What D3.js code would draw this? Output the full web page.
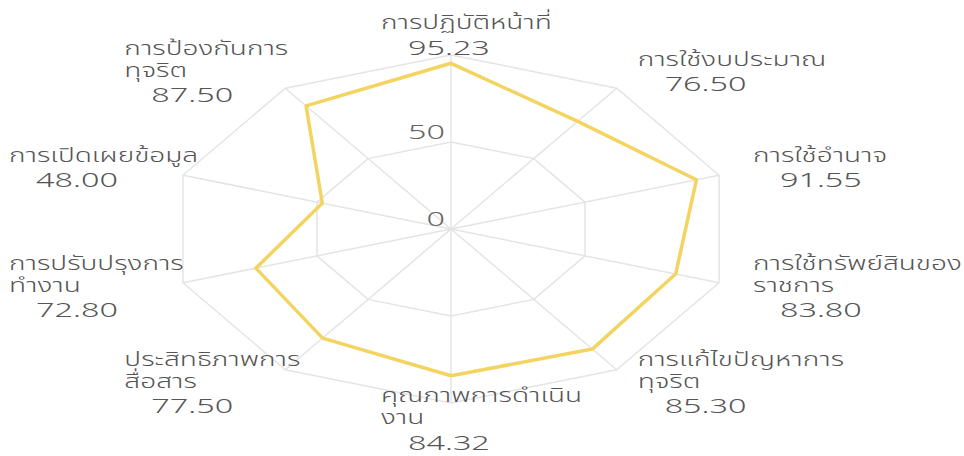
<!DOCTYPE html>
<html>
<head>
<meta charset="utf-8">
<script src="https://cdn.jsdelivr.net/npm/d3@7"></script>
<style>
body { margin: 0; background: #fff; }
svg text { font-family: "Noto Sans Thai", "Noto Sans", "DejaVu Sans", sans-serif; fill: #555; font-weight: 300; }
</style>
</head>
<body>
<svg id="chart" width="964" height="456"></svg>
<script>
// label lines per axis (wrapped as in the picture), clockwise from the top
var categories = [
    ['การปฏิบัติหน้าที่'],
    ['การใช้งบประมาณ'],
    ['การใช้อำนาจ'],
    ['การใช้ทรัพย์สินของ', 'ราชการ'],
    ['การแก้ไขปัญหาการ', 'ทุจริต'],
    ['คุณภาพการดำเนิน', 'งาน'],
    ['ประสิทธิภาพการ', 'สื่อสาร'],
    ['การปรับปรุงการ', 'ทำงาน'],
    ['การเปิดเผยข้อมูล'],
    ['การป้องกันการ', 'ทุจริต']
];
var scores = [95.23, 76.50, 91.55, 83.80, 85.30, 84.32, 77.50, 72.80, 48.00, 87.50];
var ringValues = [50, 100];
var tickValues = [0, 50];

var cx = 451, cy = 229;
var stretch = 1.62;      // the picture is wider than it is tall
var thaiStretch = 1.4;   // the Thai face here runs wider than the original one
var boxWidth = 140;
var lineGap = 22, valueGap = 25.5;

var svg = d3.select('#chart');
var r = d3.scaleLinear().domain([0, 100]).range([0, 174]);
var angle = d3.scaleLinear().domain([0, categories.length]).range([0, 2 * Math.PI]);

function px(i, v) { return cx + r(v) * Math.sin(angle(i)) * stretch; }
function py(i, v) { return cy - r(v) * Math.cos(angle(i)); }

var idx = d3.range(categories.length);
var poly = d3.line().curve(d3.curveLinearClosed);

// grid rings
svg.append('g').selectAll('path')
    .data(ringValues)
    .enter()
        .append('path')
        .attr('d', function (v) { return poly(idx.map(function (i) { return [px(i, v), py(i, v)]; })); })
        .attr('fill', 'none')
        .attr('stroke', '#e4e4e4')
        .attr('stroke-width', 1.5);

// spokes
svg.append('g').selectAll('line')
    .data(idx)
    .enter()
        .append('line')
        .attr('x1', cx).attr('y1', cy)
        .attr('x2', function (i) { return px(i, 100); })
        .attr('y2', function (i) { return py(i, 100); })
        .attr('stroke', '#e4e4e4')
        .attr('stroke-width', 1.5);

// tick labels on the vertical axis
svg.append('g').selectAll('text')
    .data(tickValues)
    .enter()
        .append('text')
        .attr('transform', function (v) { return 'translate(' + (cx - 6) + ',' + (cy - r(v) - 3) + ') scale(' + stretch + ',1)'; })
        .attr('text-anchor', 'end')
        .style('font-size', '20px')
        .style('fill', '#666')
        .text(function (v) { return v; });

// data outline
svg.append('path')
    .attr('d', poly(scores.map(function (v, i) { return [px(i, v), py(i, v)]; })))
    .attr('fill', 'none')
    .attr('stroke', '#f3d461')
    .attr('stroke-width', 3.5)
    .attr('stroke-linejoin', 'round');

// axis labels: a fixed-width box placed off the rim, text left-aligned inside
var labels = svg.append('g').selectAll('g')
    .data(idx)
    .enter()
        .append('g')
        .attr('transform', function (i) {
            var a = angle(i), s = Math.sin(a);
            var ax = cx + (r(100) + 22) * s * stretch;
            var ay = cy - (r(100) + 18) * Math.cos(a);
            var left = Math.abs(s) < 0.01 ? ax - boxWidth / 2 : (s > 0 ? ax : ax - boxWidth);
            var span = lineGap * (categories[i].length - 1) + valueGap;
            var top = ay - span / 2 + 5;
            return 'translate(' + left + ',' + top + ')';
        });
labels.each(function (i) {
    var g = d3.select(this);
    categories[i].forEach(function (line, k) {
        g.append('text')
            .attr('transform', 'translate(0,' + (k * lineGap) + ') scale(' + thaiStretch + ',1)')
            .style('font-size', '20px')
            .text(line);
    });
    g.append('text')
        .attr('transform', 'translate(27,' + (lineGap * (categories[i].length - 1) + valueGap) + ') scale(' + stretch + ',1)')
        .style('font-size', '20px')
        .text(scores[i].toFixed(2));
});
</script>
</body>
</html>
